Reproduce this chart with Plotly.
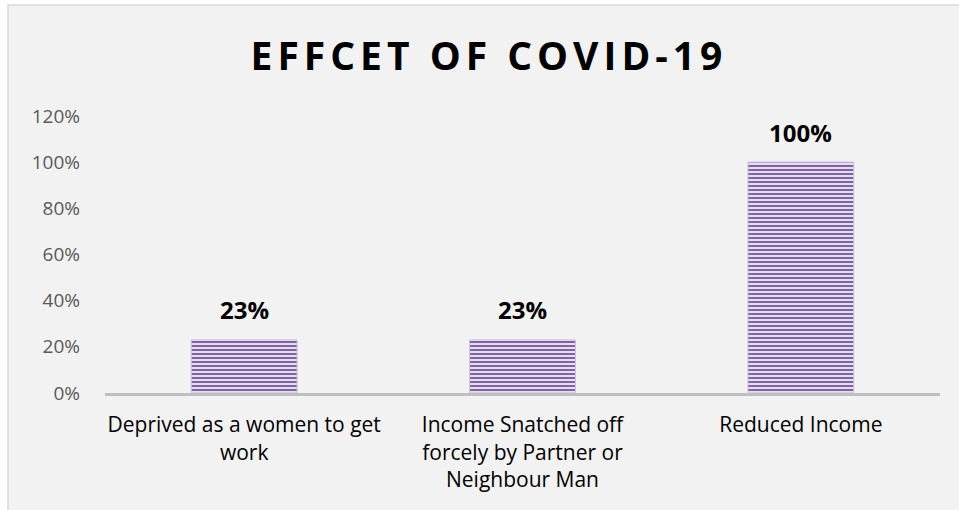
import plotly.graph_objects as go

categories = [
    "Deprived as a women to get<br>work",
    "Income Snatched off<br>forcely by Partner or<br>Neighbour Man",
    "Reduced Income",
]
values = [0.23, 0.23, 1.00]
value_labels = ["23%", "23%", "100%"]
y_tickvals = [0, 0.2, 0.4, 0.6, 0.8, 1.0, 1.2]
y_ticktext = ["0%", "20%", "40%", "60%", "80%", "100%", "120%"]

W, H = 959, 510
L, R, T, B = 105, 19, 116, 117
pw, ph = W - L - R, H - T - B

def px_x(x):
    return (x - L) / pw

def px_y(y):
    return (H - B - y) / ph

fig = go.Figure()
fig.add_trace(go.Bar(
    x=categories,
    y=values,
    marker=dict(
        color="#e4dcef",
        line=dict(color="#cbbde0", width=1),
        pattern=dict(shape="-", fgcolor="#8064a2", bgcolor="#e6dff0",
                     fgopacity=1, size=4, solidity=0.5, fillmode="overlay"),
    ),
    hoverinfo="skip",
))

for c, v, t in zip(categories, values, value_labels):
    fig.add_annotation(
        x=c, y=v, text=t, showarrow=False, yanchor="middle", yshift=30,
        font=dict(family="Open Sans", size=24, color="#000000", weight="bold"),
    )

fig.add_shape(
    type="rect", xref="paper", yref="paper", layer="below",
    x0=px_x(8), x1=px_x(W + 5), y0=px_y(H + 5), y1=px_y(5),
    fillcolor="#f2f2f2", line=dict(color="#d9d9d9", width=1.5),
)

fig.update_layout(
    width=W, height=H,
    margin=dict(l=L, r=R, t=T, b=B, autoexpand=False),
    paper_bgcolor="#ffffff",
    plot_bgcolor="rgba(0,0,0,0)",
    bargap=0.62,
    showlegend=False,
    title=dict(
        text='<span style="letter-spacing:5px">EFFCET OF COVID-19</span>',
        x=489 / W, xref="container", xanchor="center",
        y=1 - 56 / H, yref="container", yanchor="middle",
        font=dict(family="Open Sans", size=39, color="#000000", weight="bold"),
    ),
    xaxis=dict(
        showline=True, linecolor="#bfbfbf", linewidth=3,
        showgrid=False, ticks="", zeroline=False,
        tickfont=dict(family="Open Sans", size=21, color="#000000"),
        ticklabelstandoff=11,
    ),
    yaxis=dict(
        range=[0, 1.2], tickvals=y_tickvals, ticktext=y_ticktext,
        showgrid=False, zeroline=False, showline=False, ticks="",
        tickfont=dict(family="Open Sans", size=19, color="#595959"),
        ticklabelstandoff=24,
    ),
    font=dict(family="Open Sans"),
)

fig.write_html("out.html", config={"displayModeBar": False},
               post_script="document.body.style.margin='0px';")
